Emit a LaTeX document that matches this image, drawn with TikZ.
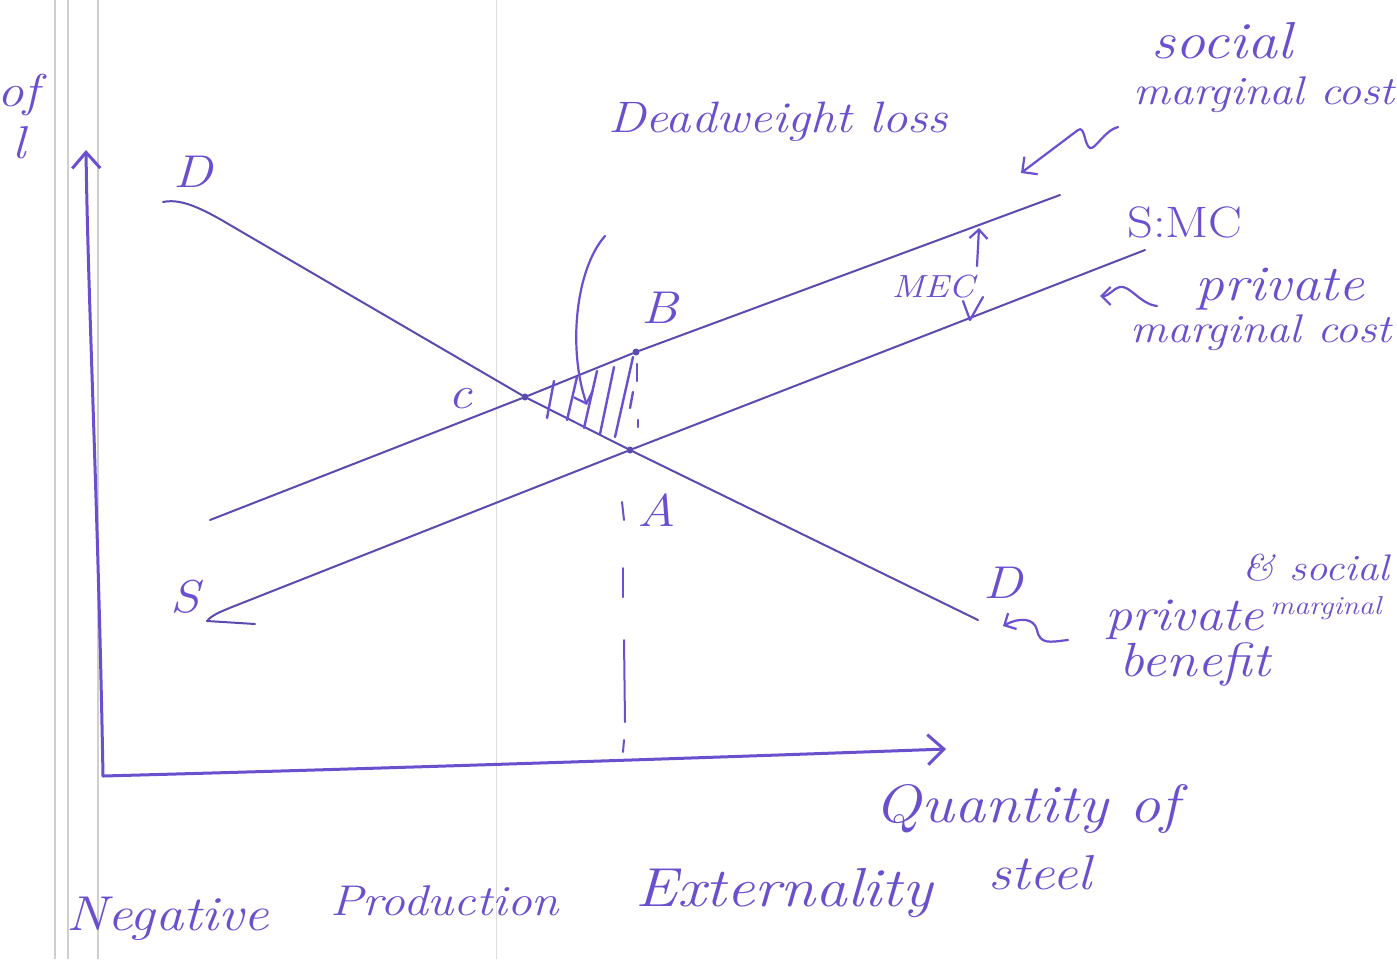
\documentclass[tikz,border=0pt]{standalone}
\usepackage{fontspec}
\setmainfont{Latin Modern Roman}[FakeStretch=1.15]
\usetikzlibrary{arrows.meta}
\definecolor{ink}{HTML}{6A4FCF}
\definecolor{curvecol}{HTML}{5B4BAE}
\definecolor{pagecol}{HTML}{CFCFCF}
\newcommand{\hsz}[1]{\fontsize{#1}{#1}\selectfont\itshape}
\tikzset{
  curve/.style={curvecol, line width=2pt, line cap=round, line join=round},
  axis/.style={ink, line width=3pt, line cap=round, line join=round},
  pen/.style={ink, line width=2.2pt, line cap=round, line join=round},
  hatch/.style={ink, line width=2.4pt, line cap=round},
  lbl/.style={text=ink, inner sep=0pt, font=\hsz{46}},
  hand/.style={text=ink, inner sep=0pt, anchor=base},
  dotted point/.style={circle, fill=curvecol, inner sep=0pt, minimum size=7pt},
  pageline/.style={pagecol, line width=1.3pt}
}
\begin{document}
\begin{tikzpicture}[x=1pt,y=-1pt]
\useasboundingbox[fill=white] (0,0) rectangle (1397,959);
% notebook page lines
\draw[pageline] (55,0) -- (55,959);
\draw[pageline] (68,0) -- (68,959);
\draw[pageline] (98,0) -- (98,959);
\draw[pagecol!70, line width=1pt] (496,0) -- (496,959);

% axes
\coordinate (O) at (103,776);
\coordinate (Ytip) at (86,150);
\coordinate (Xtip) at (946,749);
\draw[axis, -{Straight Barb[length=16pt,width=28pt,line width=3pt]}] (O) .. controls (98,500) and (88,300) .. (Ytip);
\draw[axis, -{Straight Barb[length=16pt,width=30pt,line width=3pt]}] (O) .. controls (400,768) and (700,758) .. (Xtip);

% key points
\node[dotted point] (C) at (525,397) {};
\node[dotted point] (B) at (636,352) {};
\node[dotted point] (A) at (630,450) {};

% demand curve D
\draw[curve] (163,202) .. controls (178,199) and (195,204) .. (230,225) -- (C) -- (A) -- (978,620);
% social marginal cost
\draw[curve] (210,520) -- (C) -- (B) -- (1060,195);
% private marginal cost S
\draw[curve] (255,624) -- (207,621) .. controls (212,615) and (220,612) .. (232,607) -- (A) -- (1145,250);

% hatching of deadweight loss
\draw[hatch] (547,418) -- (554,381);
\draw[hatch] (567,420) -- (577,377);
\draw[hatch] (584,428) -- (597,371);
\draw[hatch] (600,434) -- (614,367);
\draw[hatch] (615,437) -- (633,357);
\draw[hatch] (637,364) -- (637,381);
\draw[hatch] (633,392) -- (630,408);
\draw[hatch] (638,420) -- (638,427);

% dashed drop from A
\coordinate (Qbase) at (623,752);
\draw[pen, line width=2pt] (622,502) -- (624,520);
\draw[pen, line width=2pt] (623,568) -- (623,597);
\draw[pen, line width=2pt] (624,640) -- (625,722);
\draw[pen, line width=2pt] (624,740) -- (Qbase);

% labels of points and curves
\node[lbl] (lD1) at (193,172) {D};
\node[lbl] (lD2) at (1003,583) {D};
\node[lbl] (lS) at (185,597) {S};
\node[lbl] (lB) at (660,308) {B};
\node[lbl] (lC) at (460,399) {c};
\node[lbl] (lA) at (657,510) {A};
\node[lbl, font=\fontsize{44}{44}\selectfont] (lSMC) at (1185,222) {S:MC};

% MEC
\node[lbl, font=\hsz{32}] (mec) at (933,287) {MEC};
\draw[pen, -{Straight Barb[length=9pt,width=18pt,line width=2.2pt]}] (977,266) -- (979,228);
\draw[pen] (963,301) -- (970,320) -- (983,297);

% deadweight loss
\node[hand, font=\hsz{44}] (dwl) at (778,132) {Deadweight loss};
\coordinate (dwlstart) at (605,236);
\draw[pen, -{Straight Barb[length=10pt,width=20pt,line width=2.2pt]}] (dwlstart) .. controls (575,270) and (568,350) .. (587,405);

% social marginal cost annotation
\node[hand, font=\hsz{52}] (soc1) at (1222,58) {social};
\node[hand, anchor=base west, font=\hsz{40}] (soc2) at (1133,104) {marginal cost};
\coordinate (socA) at (1118,127);
\coordinate (socB) at (1021,173);
\draw[pen, -{Straight Barb[length=11pt,width=22pt,line width=2.2pt]}] (socA) .. controls (1105,130) and (1095,150) .. (1090,148) .. controls (1084,145) and (1085,125) .. (1078,130) -- (socB);

% private marginal cost annotation
\node[hand, font=\hsz{50}] (pmc1) at (1280,300) {private};
\node[hand, anchor=base west, font=\hsz{40}] (pmc2) at (1130,342) {marginal cost};
\coordinate (pmcA) at (1157,306);
\coordinate (pmcB) at (1100,296);
\draw[pen, -{Straight Barb[length=9pt,width=18pt,line width=2.2pt]}] (pmcA) .. controls (1140,304) and (1130,285) .. (1120,287) .. controls (1112,289) and (1110,296) .. (pmcB);

% private and social marginal benefit annotation
\node[hand, anchor=base west, font=\hsz{37}] (pmb0) at (1242,580) {\& social};
\node[hand, anchor=base west, font=\hsz{47}] (pmb1) at (1105,630) {private};
\node[hand, anchor=base west, font=\hsz{26}] (pmb2) at (1270,614) {marginal};
\node[hand, font=\hsz{48}] (pmb3) at (1195,676) {benefit};
\coordinate (pmbA) at (1068,640);
\coordinate (pmbB) at (1003,626);
\draw[pen, -{Straight Barb[length=9pt,width=18pt,line width=2.2pt]}] (pmbA) .. controls (1050,642) and (1040,645) .. (1037,630) .. controls (1034,618) and (1020,617) .. (pmbB);

% quantity axis label
\node[hand, font=\hsz{54}] (qty1) at (1027,822) {Quantity of};
\node[hand, font=\hsz{49}] (qty2) at (1040,889) {steel};

% title
\node[hand, anchor=base west, font=\hsz{49}] (t1) at (66,930) {Negative};
\node[hand, anchor=base west, font=\hsz{43}] (t2) at (330,915) {Production};
\node[hand, anchor=base west, font=\hsz{55}] (t3) at (635,906) {Externality};

% clipped y axis label
\node[hand, anchor=base east, font=\hsz{46}] (py1) at (40,106) {of};
\node[hand, anchor=base east, font=\hsz{46}] (py2) at (26,158) {l};
\end{tikzpicture}
\end{document}
